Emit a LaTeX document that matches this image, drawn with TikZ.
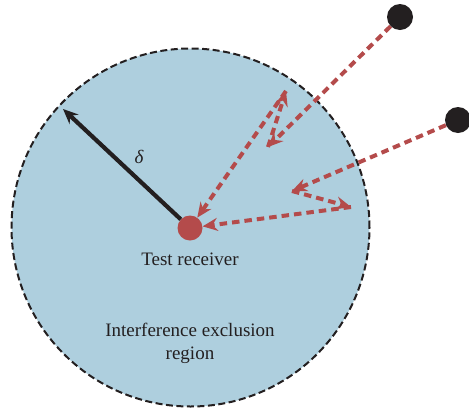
\documentclass[tikz,border=0pt]{standalone}
\usepackage{fontspec}
\setmainfont{Liberation Serif}
\usetikzlibrary{arrows.meta}
\definecolor{regionblue}{RGB}{174,207,222}
\definecolor{sigred}{RGB}{180,75,75}
\definecolor{dotblack}{RGB}{35,31,32}
\tikzset{
  region/.style={circle, fill=regionblue, draw=dotblack, dash pattern=on 7pt off 3.5pt, line width=2pt, minimum size=358pt, inner sep=0pt},
  rxdot/.style={circle, fill=sigred, minimum size=25pt, inner sep=0pt},
  txdot/.style={circle, fill=dotblack, minimum size=26pt, inner sep=0pt},
  sig/.style={draw=sigred, line width=4pt, dash pattern=on 7.5pt off 5pt, -{Stealth[length=15pt,width=13pt,inset=5pt]}},
  radius arrow/.style={draw=dotblack, line width=4.2pt, -{Stealth[length=15pt,width=13pt,inset=5pt]}},
  lbl/.style={font=\fontsize{19}{23}\selectfont, text=dotblack, align=center, inner sep=0pt}
}
\begin{document}
\begin{tikzpicture}[x=1pt,y=-1pt]
\useasboundingbox (0,0) rectangle (469,408);
\node[region] (reg) at (190.5,227.5) {};
\node[rxdot] (rx) at (190,228) {};
\node[txdot] (s1) at (400,17) {};
\node[txdot] (s2) at (458,120) {};
\coordinate (r1) at (268,147);
\coordinate (r2) at (286,91);
\coordinate (q1) at (292,191);
\coordinate (q2) at (351,207);
\coordinate (edge) at (63,109);
\draw[radius arrow] (rx) -- (edge);
\node[lbl] (delta) at (139,157) {\itshape δ};
\draw[sig] (s1) -- (r1);
\draw[sig] (r1) -- (r2);
\draw[sig] (r2) -- (rx);
\draw[sig] (s2) -- (q1);
\draw[sig] (q1) -- (q2);
\draw[sig] (q2) -- (rx);
\node[lbl] (rxlabel) at (190,259) {Test receiver};
\node[lbl] (reglabel) at (190,343) {Interference exclusion\\region};
\end{tikzpicture}
\end{document}
